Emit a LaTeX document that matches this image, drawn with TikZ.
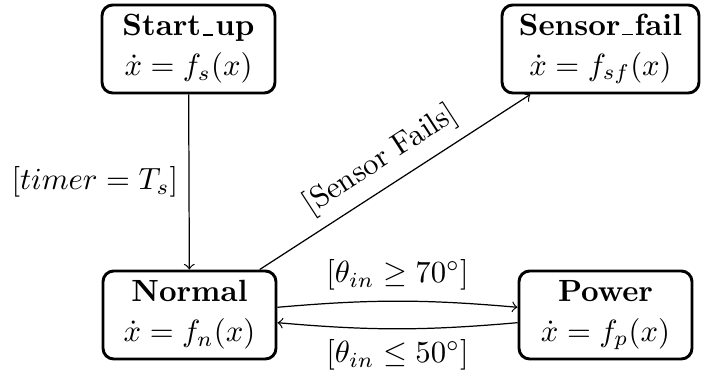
\documentclass[tikz,border=0pt]{standalone}
\usetikzlibrary{arrows}
\newcommand\usc{\leavevmode\kern.06em\vbox{\hrule width .34em height .55pt}\kern.06em}
\begin{document}
\begin{tikzpicture}[x=0.326pt,y=-0.326pt,
  statebox/.style={draw,line width=0.95pt,rounded corners=3.5pt,align=center,
    minimum width=56.4pt,minimum height=28.7pt,inner sep=2pt},
  trans/.style={->,line width=0.4pt}]
\useasboundingbox (0,0) rectangle (702,375);
\node[statebox] (start) at (188.5,49) {\textbf{Start\usc up}\\[1pt]$\dot{x}=f_s(x)$};
\node[statebox,minimum width=64.2pt] (fail) at (600.5,49) {\textbf{Sensor\usc fail}\\[1pt]$\dot{x}=f_{sf}(x)$};
\node[statebox] (normal) at (189.5,315) {\textbf{Normal}\\[1pt]$\dot{x}=f_n(x)$};
\node[statebox] (power) at (605.5,315) {\textbf{Power}\\[1pt]$\dot{x}=f_p(x)$};
\draw[trans] (start) -- node[left] {$[timer=T_s]$} (normal);
\draw[trans] (normal) -- node[above,sloped] {[Sensor Fails]} (fail);
\draw[trans] (normal) to[bend left=5] node[above] {$[\theta_{in}\geq 70^\circ]$} (power);
\draw[trans] (power) to[bend left=5] node[below] {$[\theta_{in}\leq 50^\circ]$} (normal);
\end{tikzpicture}
\end{document}
